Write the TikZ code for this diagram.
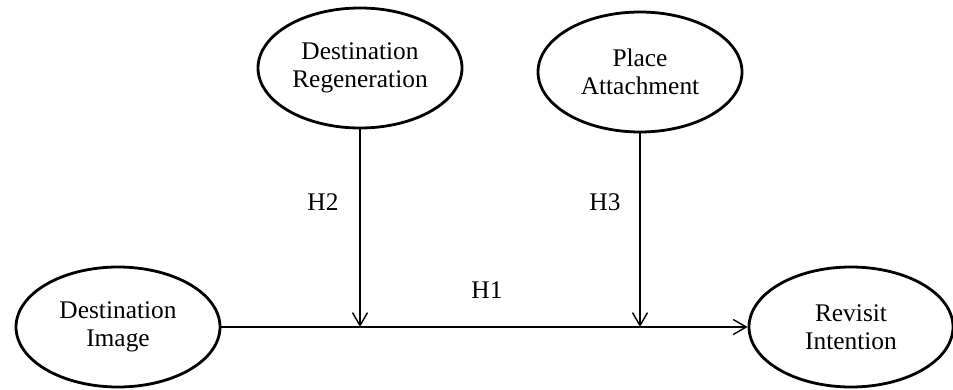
\documentclass[tikz,border=0pt]{standalone}
\usepackage{fontspec}
\setmainfont{Liberation Serif}
\usetikzlibrary{shapes.geometric,arrows.meta}
\tikzset{
 construct/.style={ellipse,draw,line width=1.4pt,minimum width=102pt,minimum height=60pt,inner sep=0pt,align=center},
 path/.style={line width=0.7pt,-{Straight Barb[length=6.5pt,width=7.5pt]}}
}
\begin{document}
\begin{tikzpicture}[x=0.5pt,y=-0.5pt,font=\fontsize{12.7}{14}\selectfont]
\useasboundingbox (0,0) rectangle (953,390);
\node[construct] (img) at (118,327) {Destination\\Image};
\node[construct] (reg) at (360,68) {Destination\\Regeneration};
\node[construct] (att) at (640,72) {Place\\Attachment};
\node[construct] (rev) at (851,327) {Revisit\\Intention}; %constructs

\draw[path] (img.east) -- (rev.west); %H1
\draw[path] (reg.south) -- (reg.south |- img.east); %H2
\draw[path] (att.south) -- (att.south |- img.east); %H3

\node (h1) at (487,290) {H1};
\node (h2) at (323,202) {H2};
\node (h3) at (605,202) {H3}; %labels
\end{tikzpicture}
\end{document}
